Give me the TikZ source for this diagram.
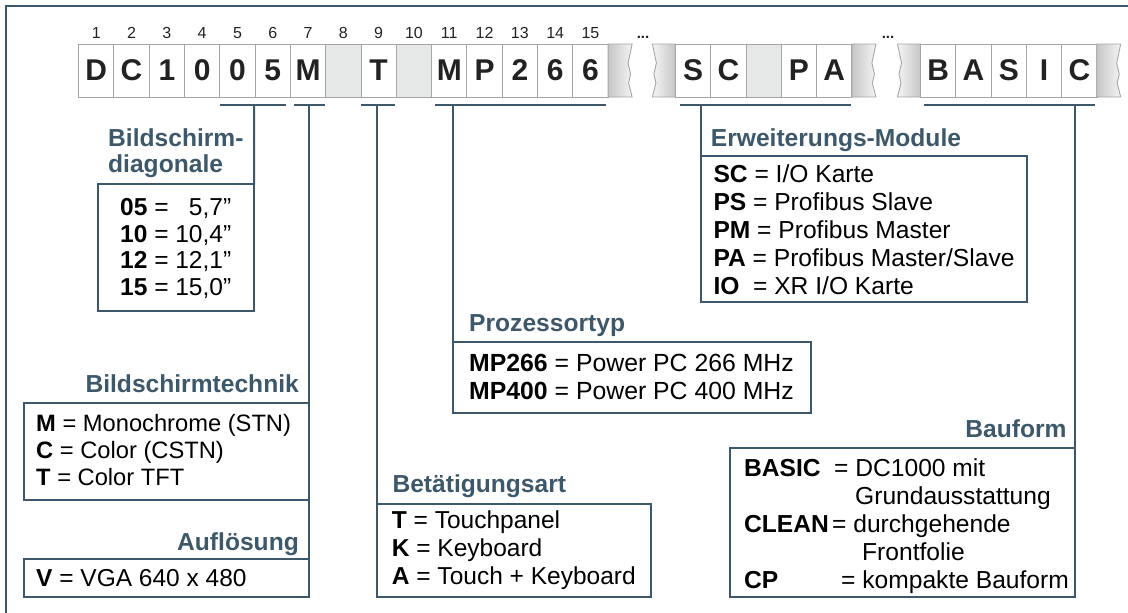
\documentclass[tikz,border=0pt]{standalone}
\usepackage{fontspec}
\setmainfont{Liberation Sans}
\definecolor{slate}{RGB}{60,88,106}
\definecolor{celltxt}{RGB}{34,34,34}
\definecolor{cellline}{RGB}{165,165,165}
\definecolor{cellgray}{RGB}{230,231,231}
\definecolor{torndark}{RGB}{198,198,198}
\definecolor{tornlight}{RGB}{244,244,244}
\newcommand\tornR[1]{\shadedraw[left color=torndark, right color=tornlight, draw=cellline, line width=0.9pt]
  (#1,44) -- ({#1+24},44) -- ({#1+20},63) -- ({#1+22.5},74) -- ({#1+20.5},83) -- ({#1+24},97) -- (#1,97) -- cycle;}
\newcommand\tornL[1]{\shadedraw[left color=tornlight, right color=torndark, draw=cellline, line width=0.9pt]
  (#1,44) -- ({#1-23},44) -- ({#1-19},63) -- ({#1-21.5},74) -- ({#1-19.5},83) -- ({#1-23},97) -- (#1,97) -- cycle;}
\begin{document}
\begin{tikzpicture}[x=1pt,y=-1pt,
  cellbox/.style={draw=cellline, line width=0.9pt, fill=white, minimum width=35.3pt, minimum height=53pt, inner sep=0pt, outer sep=0pt, font=\fontsize{30}{32}\selectfont\bfseries, text=celltxt},
  emptycell/.style={cellbox, fill=cellgray},
  numlbl/.style={font=\fontsize{16}{18}\selectfont, text=celltxt, anchor=base, inner sep=0pt},
  dotlbl/.style={font=\fontsize{15}{16}\selectfont\bfseries, text=celltxt, anchor=base, inner sep=0pt},
  frameline/.style={draw=slate, line width=2pt},
  conn/.style={draw=slate, line width=2pt},
  infobox/.style={draw=slate, line width=2pt, inner sep=0pt, outer sep=0pt, anchor=north west},
  head/.style={font=\fontsize{24.6}{26}\selectfont\bfseries, text=slate, inner sep=0pt},
  body/.style={font=\fontsize{24.5}{27.7}\selectfont, text=black, inner sep=0pt, anchor=base west},
]
\useasboundingbox (0,0) rectangle (1128,613);
% frame
\coordinate (ftl) at (6,6);
\coordinate (ftr) at (1128,6);
\coordinate (fbl) at (6,613);
\draw[frameline] (ftr) -- (ftl) -- (fbl);

% cells group 1
\node[cellbox] (c1) at (96.25,70.5) {D};
\node[cellbox] (c2) at (131.55,70.5) {C};
\node[cellbox] (c3) at (166.85,70.5) {1};
\node[cellbox] (c4) at (202.15,70.5) {0};
\node[cellbox] (c5) at (237.45,70.5) {0};
\node[cellbox] (c6) at (272.75,70.5) {5};
\node[cellbox] (c7) at (308.05,70.5) {M};
\node[emptycell] (c8) at (343.35,70.5) {};
\node[cellbox] (c9) at (378.65,70.5) {T};
\node[emptycell] (c10) at (413.95,70.5) {};
\node[cellbox] (c11) at (449.25,70.5) {M};
\node[cellbox] (c12) at (484.55,70.5) {P};
\node[cellbox] (c13) at (519.85,70.5) {2};
\node[cellbox] (c14) at (555.15,70.5) {6};
\node[cellbox] (c15) at (590.45,70.5) {6};
\foreach \i in {1,...,15} {
  \node[numlbl] (n\i) at ({96.25+35.3*(\i-1)},38) {\i};
}
\tornR{608.1}
\node[dotlbl] (dots1) at (643,38) {...};
\tornL{675.4}
% group 2
\node[cellbox] (s1) at (693.05,70.5) {S};
\node[cellbox] (s2) at (728.35,70.5) {C};
\node[emptycell] (s3) at (763.65,70.5) {};
\node[cellbox] (s4) at (798.95,70.5) {P};
\node[cellbox] (s5) at (834.25,70.5) {A};
\tornR{851.9}
\node[dotlbl] (dots2) at (888,38) {...};
\tornL{920.5}
% group 3
\node[cellbox] (b1) at (938.15,70.5) {B};
\node[cellbox] (b2) at (973.45,70.5) {A};
\node[cellbox] (b3) at (1008.75,70.5) {S};
\node[cellbox] (b4) at (1044.05,70.5) {I};
\node[cellbox] (b5) at (1079.35,70.5) {C};
\tornR{1096.7}

% info boxes
\node[infobox, minimum width=156.3pt, minimum height=126.4pt] (diag) at (97.7,184.3) {};
\node[infobox, minimum width=285pt, minimum height=97.3pt] (tech) at (24,402.7) {};
\node[infobox, minimum width=285pt, minimum height=38pt] (aufl) at (24,559.3) {};
\node[infobox, minimum width=273.7pt, minimum height=92.7pt] (betae) at (377,504.3) {};
\node[infobox, minimum width=358pt, minimum height=71pt] (proz) at (453,342.3) {};
\node[infobox, minimum width=326.6pt, minimum height=146pt] (erw) at (700.7,155.7) {};
\node[infobox, minimum width=345pt, minimum height=149.3pt] (bauf) at (730,447.7) {};

% brackets and connectors
\coordinate (k1l) at (220,105);   \coordinate (k1r) at (285.7,105);  \coordinate (k1m) at (254,105);
\coordinate (k2l) at (294.3,105); \coordinate (k2r) at (325,105);    \coordinate (k2m) at (309,105);
\coordinate (k3l) at (360.7,105); \coordinate (k3r) at (395,105);    \coordinate (k3m) at (377,105);
\coordinate (k4l) at (435,105);   \coordinate (k4r) at (605.7,105);  \coordinate (k4m) at (453,105);
\coordinate (k5l) at (680,105);   \coordinate (k5r) at (851,105);    \coordinate (k5m) at (700.7,105);
\coordinate (k6l) at (924,105);   \coordinate (k6r) at (1094.5,105); \coordinate (k6m) at (1075,105);
\draw[conn] (k1l) -- (k1r);  \draw[conn] (k1m) -- (diag.north east);
\draw[conn] (k2l) -- (k2r);  \draw[conn] (k2m) -- (aufl.south east);
\draw[conn] (k3l) -- (k3r);  \draw[conn] (k3m) -- (betae.south west);
\draw[conn] (k4l) -- (k4r);  \draw[conn] (k4m) -- (proz.south west);
\draw[conn] (k5l) -- (k5r);  \draw[conn] (k5m) -- (erw.south west);
\draw[conn] (k6l) -- (k6r);  \draw[conn] (k6m) -- (bauf.south east);

% headings
\node[head, anchor=base west] (hdiag) at (108,146.7) {\begin{tabular}[t]{@{}l@{}}Bildschirm-\\diagonale\end{tabular}};
\node[head, anchor=base east] (htech) at (299,392) {Bildschirmtechnik};
\node[head, anchor=base east] (haufl) at (299,550.5) {Auflösung};
\node[head, anchor=base west] (hbetae) at (392.3,492.7) {Betätigungsart};
\node[head, anchor=base west] (hproz) at (469,331.7) {Prozessortyp};
\node[head, anchor=base west] (herw) at (710.7,146) {Erweiterungs-Module};
\node[head, anchor=base east] (hbauf) at (1066.7,437.3) {Bauform};

% body texts
\node[body, font=\fontsize{24.5}{26.5}\selectfont] (tdiag) at (120,215.7) {\begin{tabular}[t]{@{}l@{}}
\textbf{05} = \hphantom{1}5,7”\\
\textbf{10} = 10,4”\\
\textbf{12} = 12,1”\\
\textbf{15} = 15,0”\end{tabular}};
\node[body, font=\fontsize{23.7}{27.3}\selectfont] (ttech) at (36,431) {\begin{tabular}[t]{@{}l@{}}
\textbf{M} = Monochrome (STN)\\
\textbf{C} = Color (CSTN)\\
\textbf{T} = Color TFT\end{tabular}};
\node[body] (taufl) at (36,586.7) {\textbf{V} = VGA 640 x 480};
\node[body] (tbetae) at (391.7,528.7) {\begin{tabular}[t]{@{}l@{}}
\textbf{T} = Touchpanel\\
\textbf{K} = Keyboard\\
\textbf{A} = Touch + Keyboard\end{tabular}};
\node[body, font=\fontsize{24.8}{27.6}\selectfont] (tproz) at (469,371.7) {\begin{tabular}[t]{@{}l@{}}
\textbf{MP266} = Power PC 266 MHz\\
\textbf{MP400} = Power PC 400 MHz\end{tabular}};
\node[body, font=\fontsize{24.6}{27.9}\selectfont] (terw) at (713.3,182.7) {\begin{tabular}[t]{@{}l@{}}
\textbf{SC} = I/O Karte\\
\textbf{PS} = Profibus Slave\\
\textbf{PM} = Profibus Master\\
\textbf{PA} = Profibus Master/Slave\\
\textbf{IO}\ \ = XR I/O Karte\end{tabular}};
\node[body, font=\fontsize{24.6}{27.9}\selectfont] (tbauf) at (744,476.7) {\begin{tabular}[t]{@{}l@{}}
\makebox[90pt][l]{\textbf{BASIC}}= DC1000 mit\\
\hspace*{111pt}Grundausstattung\\
\makebox[88pt][l]{\textbf{CLEAN}}= durchgehende\\
\hspace*{118pt}Frontfolie\\
\makebox[97pt][l]{\textbf{CP}}= kompakte Bauform\end{tabular}};
\end{tikzpicture}
\end{document}
